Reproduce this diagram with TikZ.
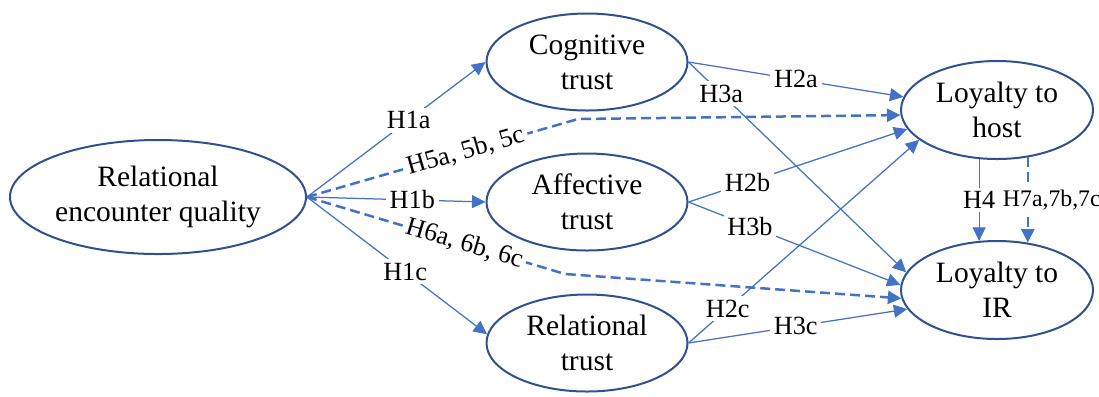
\documentclass[tikz,border=0pt]{standalone}
\usepackage{fontspec}
\setmainfont{Liberation Serif}
\usetikzlibrary{arrows.meta,shapes.geometric}
\definecolor{edgeblue}{RGB}{68,114,196}
\definecolor{rimblue}{RGB}{47,82,143}

\begin{document}
\begin{tikzpicture}[x=0.4pt,y=-0.4pt]
\tikzstyle{every node}=[inner sep=1pt]
\tikzstyle{construct}=[ellipse, draw=rimblue, line width=0.8pt, inner sep=0pt, align=center, font=\fontsize{11.8}{14}\selectfont]
\tikzstyle{trust}=[construct, minimum width=80.4pt, minimum height=38.8pt]
\tikzstyle{loyal}=[construct, minimum width=76.8pt, minimum height=39.2pt]
\tikzstyle{link}=[draw=edgeblue, line width=0.5pt, -{Triangle[length=5.4pt,width=5.2pt]}]
\tikzstyle{indirect}=[link, line width=1pt, dash pattern=on 4pt off 2pt]
\tikzstyle{hyp}=[fill=white, inner sep=1.5pt, font=\fontsize{10.5}{12}\selectfont]
\useasboundingbox (0,0) rectangle (1099,396);
% constructs
\node[construct, minimum width=118.4pt, minimum height=45.6pt] (req) at (158,197) {Relational\\encounter quality};
\node[trust] (cog) at (587,62) {Cognitive\\trust};
\node[trust] (aff) at (587,202) {Affective\\trust};
\node[trust] (rel) at (587,343) {Relational\\trust};
\node[loyal] (host) at (997,110) {Loyalty to\\host};
\node[loyal] (ir) at (997,290) {Loyalty to\\IR};
\coordinate (k5) at (578,119);
\coordinate (k6) at (565,274);
% H1
\draw[link] (req.east) -- node[hyp,pos=0.57]{H1a} (cog.west);
\draw[link] (req.east) -- node[hyp,pos=0.59]{H1b} (aff.west);
\draw[link] (req.east) -- node[hyp,pos=0.545]{H1c} (rel.175);
% mediated paths
\draw[indirect] (req.east) -- node[hyp,sloped,pos=0.585]{H5a, 5b, 5c} (k5) -- (host.183);
\draw[indirect] (req.east) -- node[hyp,sloped,pos=0.61]{H6a, 6b, 6c} (k6) -- (ir.185);
% H2, H3
\draw[link] (cog.east) -- node[hyp,pos=0.5]{H2a} (host.172);
\draw[link] (cog.east) -- node[hyp,pos=0.15]{H3a} (ir.169);
\draw[link] (aff.east) -- node[hyp,pos=0.27]{H2b} (host.192);
\draw[link] (aff.east) -- node[hyp,pos=0.29]{H3b} (ir.177);
\draw[link] (rel.east) -- node[hyp,pos=0.17]{H2c} (host.201);
\draw[link] (rel.east) -- node[hyp,pos=0.49]{H3c} (ir.192);
% H4, H7
\draw[link] (host.250) -- node[hyp]{H4} (ir.110);
\draw[indirect] (host.303) -- node[hyp,xshift=9.6pt,font=\fontsize{9.5}{11}\selectfont]{H7a,7b,7c} (ir.57);
\end{tikzpicture}
\end{document}
